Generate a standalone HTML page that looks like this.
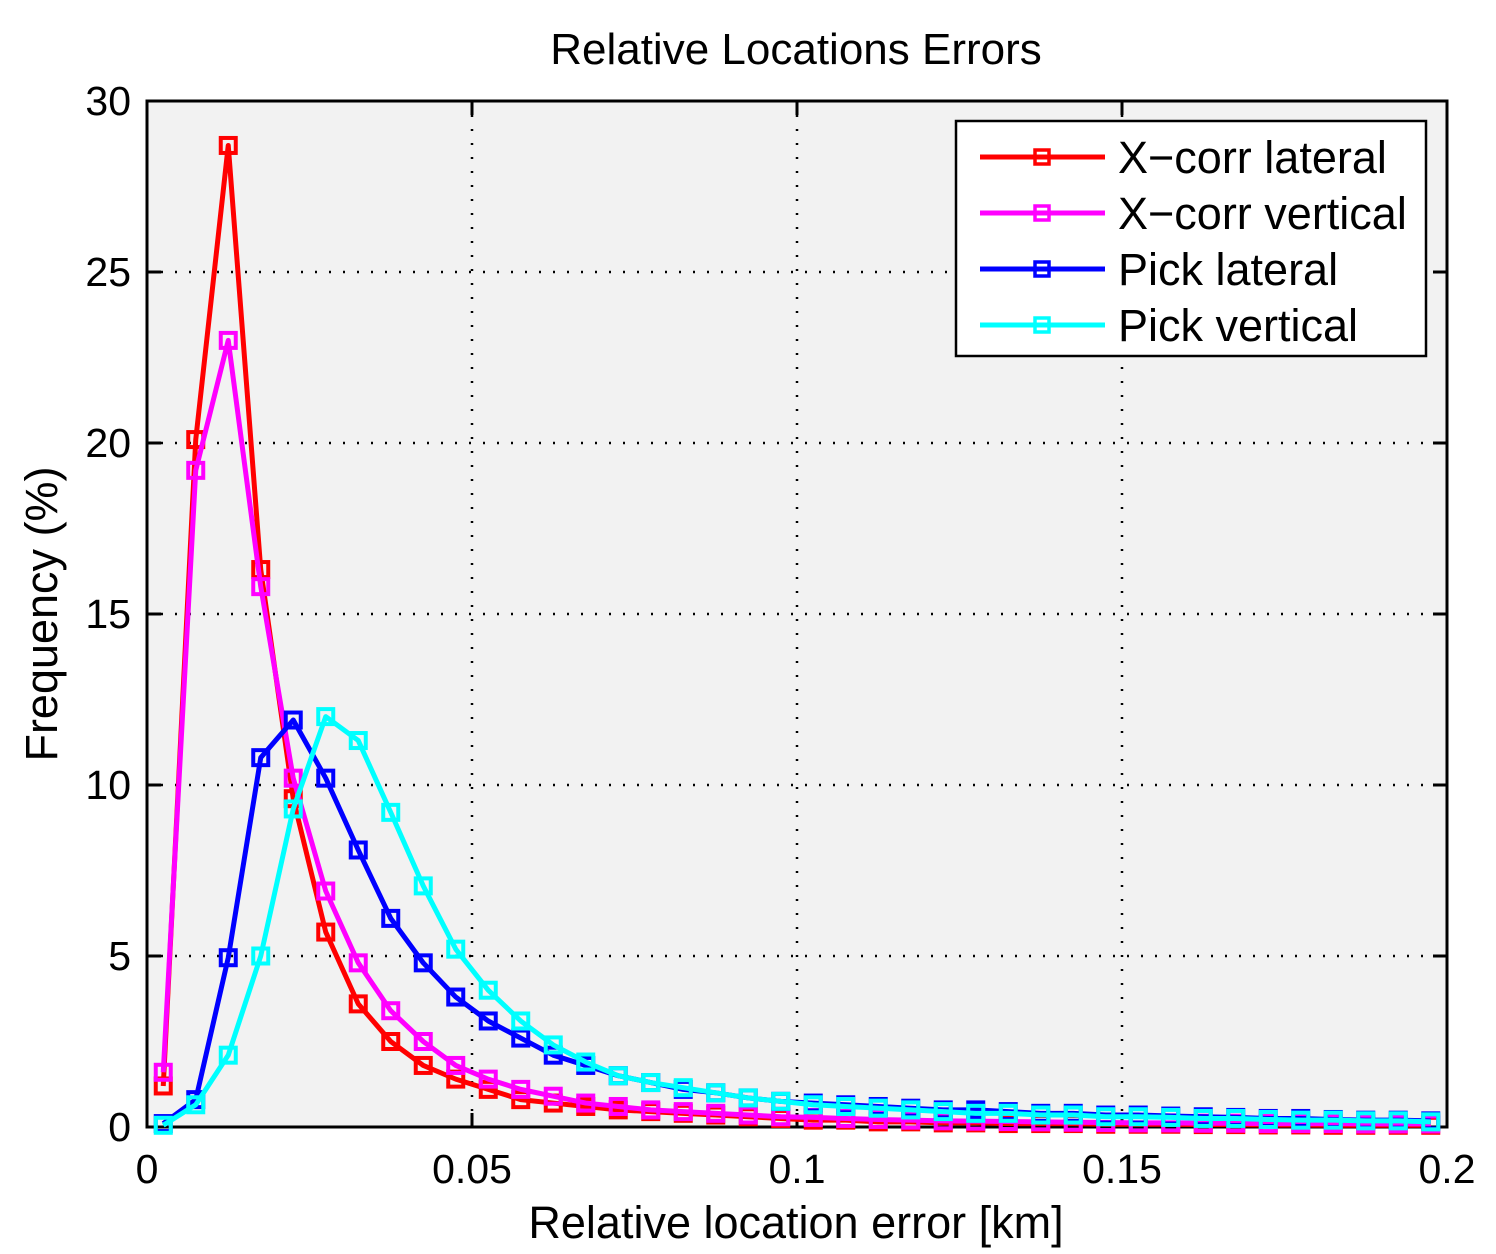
<!DOCTYPE html>
<html><head><meta charset="utf-8"><style>body{margin:0;background:#fff}svg{display:block;font-family:"Liberation Sans",sans-serif}</style></head>
<body>
<svg id="c" width="1496" height="1254"></svg>
<script>
const categories=[];for(let i=0;i<40;i++)categories.push(0.0025+0.005*i);
const xcorrLateral=[1.2,20.1,28.7,16.3,9.6,5.7,3.6,2.5,1.8,1.4,1.1,0.8,0.7,0.6,0.5,0.45,0.4,0.35,0.3,0.25,0.2,0.2,0.15,0.15,0.12,0.12,0.1,0.1,0.1,0.08,0.08,0.08,0.07,0.07,0.06,0.06,0.05,0.05,0.05,0.05];
const xcorrVertical=[1.6,19.2,23.0,15.8,10.2,6.9,4.8,3.4,2.5,1.8,1.4,1.1,0.9,0.7,0.6,0.5,0.45,0.4,0.35,0.3,0.28,0.25,0.22,0.2,0.18,0.17,0.16,0.15,0.14,0.13,0.12,0.12,0.11,0.11,0.1,0.1,0.1,0.09,0.09,0.09];
const pickLateral=[0.1,0.8,4.95,10.8,11.9,10.2,8.1,6.1,4.8,3.8,3.1,2.6,2.1,1.8,1.5,1.3,1.1,1.0,0.85,0.75,0.7,0.65,0.6,0.55,0.5,0.5,0.45,0.4,0.4,0.35,0.35,0.32,0.3,0.28,0.25,0.25,0.22,0.2,0.2,0.18];
const pickVertical=[0.05,0.65,2.1,5.0,9.3,12.0,11.3,9.2,7.05,5.2,4.0,3.1,2.4,1.9,1.5,1.3,1.15,1.0,0.85,0.75,0.65,0.6,0.55,0.5,0.45,0.4,0.4,0.35,0.35,0.3,0.3,0.28,0.25,0.25,0.22,0.2,0.2,0.18,0.18,0.15];
const xTicks=[0,0.05,0.1,0.15,0.2];const xTickLabels=["0","0.05","0.1","0.15","0.2"];
const yTicks=[0,5,10,15,20,25,30];
const seriesNames=["X\u2212corr lateral","X\u2212corr vertical","Pick lateral","Pick vertical"];
const seriesColors=["#ff0000","#ff00ff","#0000ff","#00ffff"];
const seriesData=[xcorrLateral,xcorrVertical,pickLateral,pickVertical];
const L=147,R=1447,T=101,B=1127;
const sx=v=>L+(v-0)/0.2*(R-L), sy=v=>B-v/30*(B-T);
const svg=document.getElementById('c');const NS='http://www.w3.org/2000/svg';
function mk(t,a,p){const e=document.createElementNS(NS,t);for(const k in a)e.setAttribute(k,a[k]);(p||svg).appendChild(e);return e;}
let e=mk('rect',{x:L,y:T,width:R-L,height:B-T,fill:'#f2f2f2'});


const grid=mk('g',{stroke:'#000','stroke-width':2.5,'stroke-dasharray':'2 12'});


xTicks.slice(1,-1).forEach(v=>mk('line',{x1:sx(v),x2:sx(v),y1:T,y2:B},grid));
yTicks.slice(1,-1).forEach(v=>mk('line',{x1:L,x2:R,y1:sy(v),y2:sy(v)},grid));
const ax=mk('g',{stroke:'#000','stroke-width':3,fill:'none'});


mk('rect',{x:L,y:T,width:R-L,height:B-T},ax);
xTicks.forEach(v=>{mk('line',{x1:sx(v),x2:sx(v),y1:B,y2:B-14},ax);mk('line',{x1:sx(v),x2:sx(v),y1:T,y2:T+14},ax);});
yTicks.forEach(v=>{mk('line',{x1:L,x2:L+14,y1:sy(v),y2:sy(v)},ax);mk('line',{x1:R,x2:R-14,y1:sy(v),y2:sy(v)},ax);});
xTicks.forEach((v,i)=>{const t=mk('text',{x:sx(v),y:B+56,'font-size':41,'text-anchor':'middle'});t.textContent=xTickLabels[i];

});
yTicks.forEach(v=>{const t=mk('text',{x:L-16,y:sy(v)+14,'font-size':41,'text-anchor':'end'});t.textContent=String(v);

});
seriesData.forEach((d,s)=>{
 const g=mk('g',{stroke:seriesColors[s],fill:'none'});
 
 
 mk('polyline',{points:d.map((v,i)=>sx(categories[i])+','+sy(v)).join(' '),'stroke-width':5,'stroke-linejoin':'round'},g);
 d.forEach((v,i)=>{const m=mk('rect',{x:sx(categories[i])-7.5,y:sy(v)-7.5,width:15,height:15,'stroke-width':4},g);
 
 });
});
const lg=mk('g',{});


mk('rect',{x:956,y:121,width:470,height:235,fill:'#fff',stroke:'#000','stroke-width':2.5},lg);
seriesNames.forEach((n,s)=>{const y=157+56*s;
 mk('line',{x1:980,x2:1105,y1:y,y2:y,stroke:seriesColors[s],'stroke-width':5},lg);
 mk('rect',{x:1035,y:y-7,width:14,height:14,fill:'none',stroke:seriesColors[s],'stroke-width':3.5},lg);
 const t=mk('text',{x:1118,y:y+16,'font-size':45},lg);t.textContent=n;
 
 });
let t=mk('text',{x:796,y:64,'font-size':44,'text-anchor':'middle'});t.textContent='Relative Locations Errors';


t=mk('text',{x:796,y:1238,'font-size':45,'text-anchor':'middle'});t.textContent='Relative location error [km]';


t=mk('text',{x:0,y:0,'font-size':45,'text-anchor':'middle',transform:'translate(57,614) rotate(-90)'});t.textContent='Frequency (%)';


</script>
</body></html>
